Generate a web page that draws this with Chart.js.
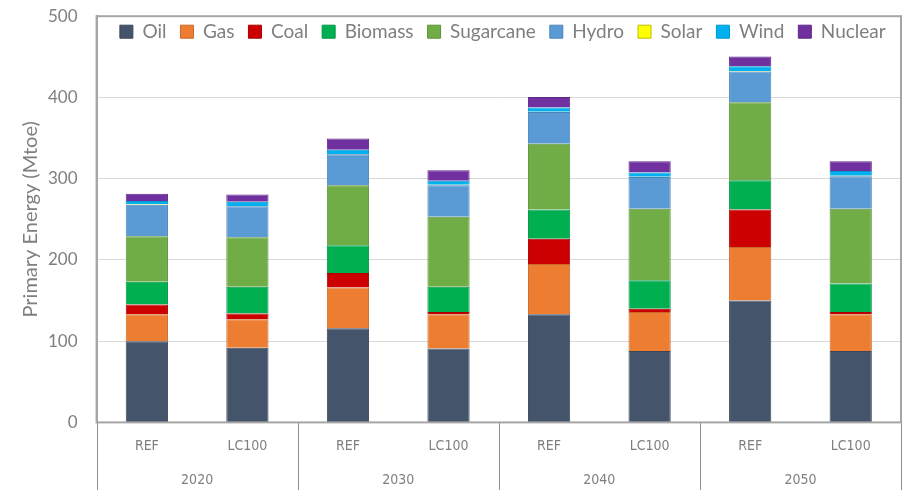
<!DOCTYPE html>
<html>
<head>
<meta charset="utf-8">
<script src="https://cdn.jsdelivr.net/npm/chart.js@4.4.1/dist/chart.umd.min.js"></script>
<style>
  html, body { margin: 0; padding: 0; background: #fff; }
  #wrap { width: 907px; height: 490px; }
</style>
</head>
<body>
<div id="wrap"><canvas id="energyChart"></canvas></div>
<script>
const YEARS = ['2020', '2030', '2040', '2050'];
const SCENARIOS = ['REF', 'LC100'];

// Mtoe, order: 2020 REF, 2020 LC100, 2030 REF, 2030 LC100, ...
const oil       = [100, 92, 116, 91, 133, 88, 150, 88];
const gas       = [33, 35, 50, 42, 62, 48, 66, 45];
const coal      = [12, 7, 18, 3, 31, 4, 46, 3];
const biomass   = [28, 33, 34, 31, 36, 35, 36, 35];
const sugarcane = [56, 61, 74, 86, 81, 88, 96, 92];
const hydro     = [39, 38, 38, 39, 39, 39, 38, 40];
const solar     = [0.5, 0.5, 0.5, 0.5, 0.5, 0.5, 0.5, 0.5];
const wind      = [4, 5, 5, 5, 5, 5, 6, 6];
const nuclear   = [9, 9, 14, 13, 13, 14, 12, 12];

const labels = YEARS.flatMap(() => SCENARIOS);

const GREY = '#7f7f7f';
const NARROW = "'Liberation Sans Narrow', 'DejaVu Sans Condensed', 'Liberation Sans', sans-serif";
const LEGEND_PAD = 14;

// let the legend lie in a row when it sits inside the plot area
const LegendEl = Chart.registry.getPlugin('legend')._element;
LegendEl.prototype.isHorizontal = function () {
  const p = this.options.position;
  return p === 'top' || p === 'bottom' || p === 'chartArea';
};

function ds(label, data, color, border) {
  return {
    label: label,
    data: data,
    backgroundColor: color,
    borderColor: border,
    borderWidth: 1,
    barPercentage: 0.84,
    categoryPercentage: 0.5
  };
}

// vertical separators between year groups + frame round the plot
const groupLines = {
  id: 'groupLines',
  afterLayout(chart) {
    const lg = chart.legend;
    const area = chart.chartArea;
    if (lg) {
      lg.left = area.left + 4;
      lg.right = area.right + 4;
      lg.top = area.top + 6 - LEGEND_PAD;
    }
  },
  afterDraw(chart) {
    const ctx = chart.ctx;
    const x = chart.scales.x;
    const area = chart.chartArea;
    const half = (x.getPixelForValue(1) - x.getPixelForValue(0)) / 2;
    ctx.save();
    ctx.strokeStyle = '#8c8c8c';
    ctx.lineWidth = 1;
    for (let i = 0; i <= YEARS.length; i++) {
      const px = Math.round(x.getPixelForValue(i * SCENARIOS.length) - half) + 0.5;
      ctx.beginPath();
      ctx.moveTo(px, area.bottom);
      ctx.lineTo(px, chart.height);
      ctx.stroke();
    }
    ctx.strokeStyle = '#a6a6a6';
    ctx.lineWidth = 2;
    ctx.strokeRect(area.left, area.top, area.right - area.left, area.bottom - area.top);
    ctx.restore();
  }
};

const CHART = document.getElementById('energyChart');

let energyChart = new Chart(CHART, {
  type: 'bar',
  data: {
    labels: labels,
    datasets: [
      ds('Oil', oil, '#44546a', '#3a4759'),
      ds('Gas', gas, '#ed7d31', '#c9692a'),
      ds('Coal', coal, '#cc0000', '#a80000'),
      ds('Biomass', biomass, '#00b050', '#009443'),
      ds('Sugarcane', sugarcane, '#70ad47', '#5e923b'),
      ds('Hydro', hydro, '#5b9bd5', '#4d84b5'),
      ds('Solar', solar, '#ffff00', '#bfbf00'),
      ds('Wind', wind, '#00b0f0', '#0095cc'),
      ds('Nuclear', nuclear, '#7030a0', '#5e2887')
    ]
  },
  options: {
    responsive: true,
    maintainAspectRatio: false,
    animation: false,
    layout: { padding: { left: 17, right: 6, top: 1, bottom: 0 } },
    plugins: {
      tooltip: { enabled: false },
      legend: {
        position: 'chartArea',
        align: 'center',
        labels: {
          color: GREY,
          font: { family: 'Lato', size: 19 },
          boxWidth: 13,
          boxHeight: 13,
          padding: LEGEND_PAD
        }
      }
    },
    scales: {
      x: {
        stacked: true,
        grid: { display: false, drawTicks: false },
        border: { color: '#8c8c8c', width: 1 },
        ticks: {
          color: GREY,
          padding: 16,
          maxRotation: 0,
          minRotation: 0,
          font: { family: NARROW, size: 14 }
        }
      },
      x2: {
        type: 'category',
        labels: YEARS,
        position: 'bottom',
        offset: true,
        grid: { display: false, drawTicks: false },
        border: { display: false },
        ticks: {
          color: GREY,
          padding: 1,
          maxRotation: 0,
          minRotation: 0,
          font: { family: NARROW, size: 14 }
        }
      },
      y: {
        stacked: true,
        min: 0,
        max: 500,
        border: { color: '#a6a6a6', width: 2 },
        grid: { color: '#d9d9d9', tickLength: 13, tickColor: 'rgba(0,0,0,0)' },
        ticks: {
          stepSize: 100,
          color: GREY,
          padding: 6,
          font: { family: 'Lato', size: 17 }
        },
        title: {
          display: true,
          text: 'Primary Energy (Mtoe)',
          color: GREY,
          padding: { top: 2, bottom: -1 },
          font: { family: 'Lato', size: 20 }
        }
      }
    }
  },
  plugins: [groupLines]
});
</script>
</body>
</html>
